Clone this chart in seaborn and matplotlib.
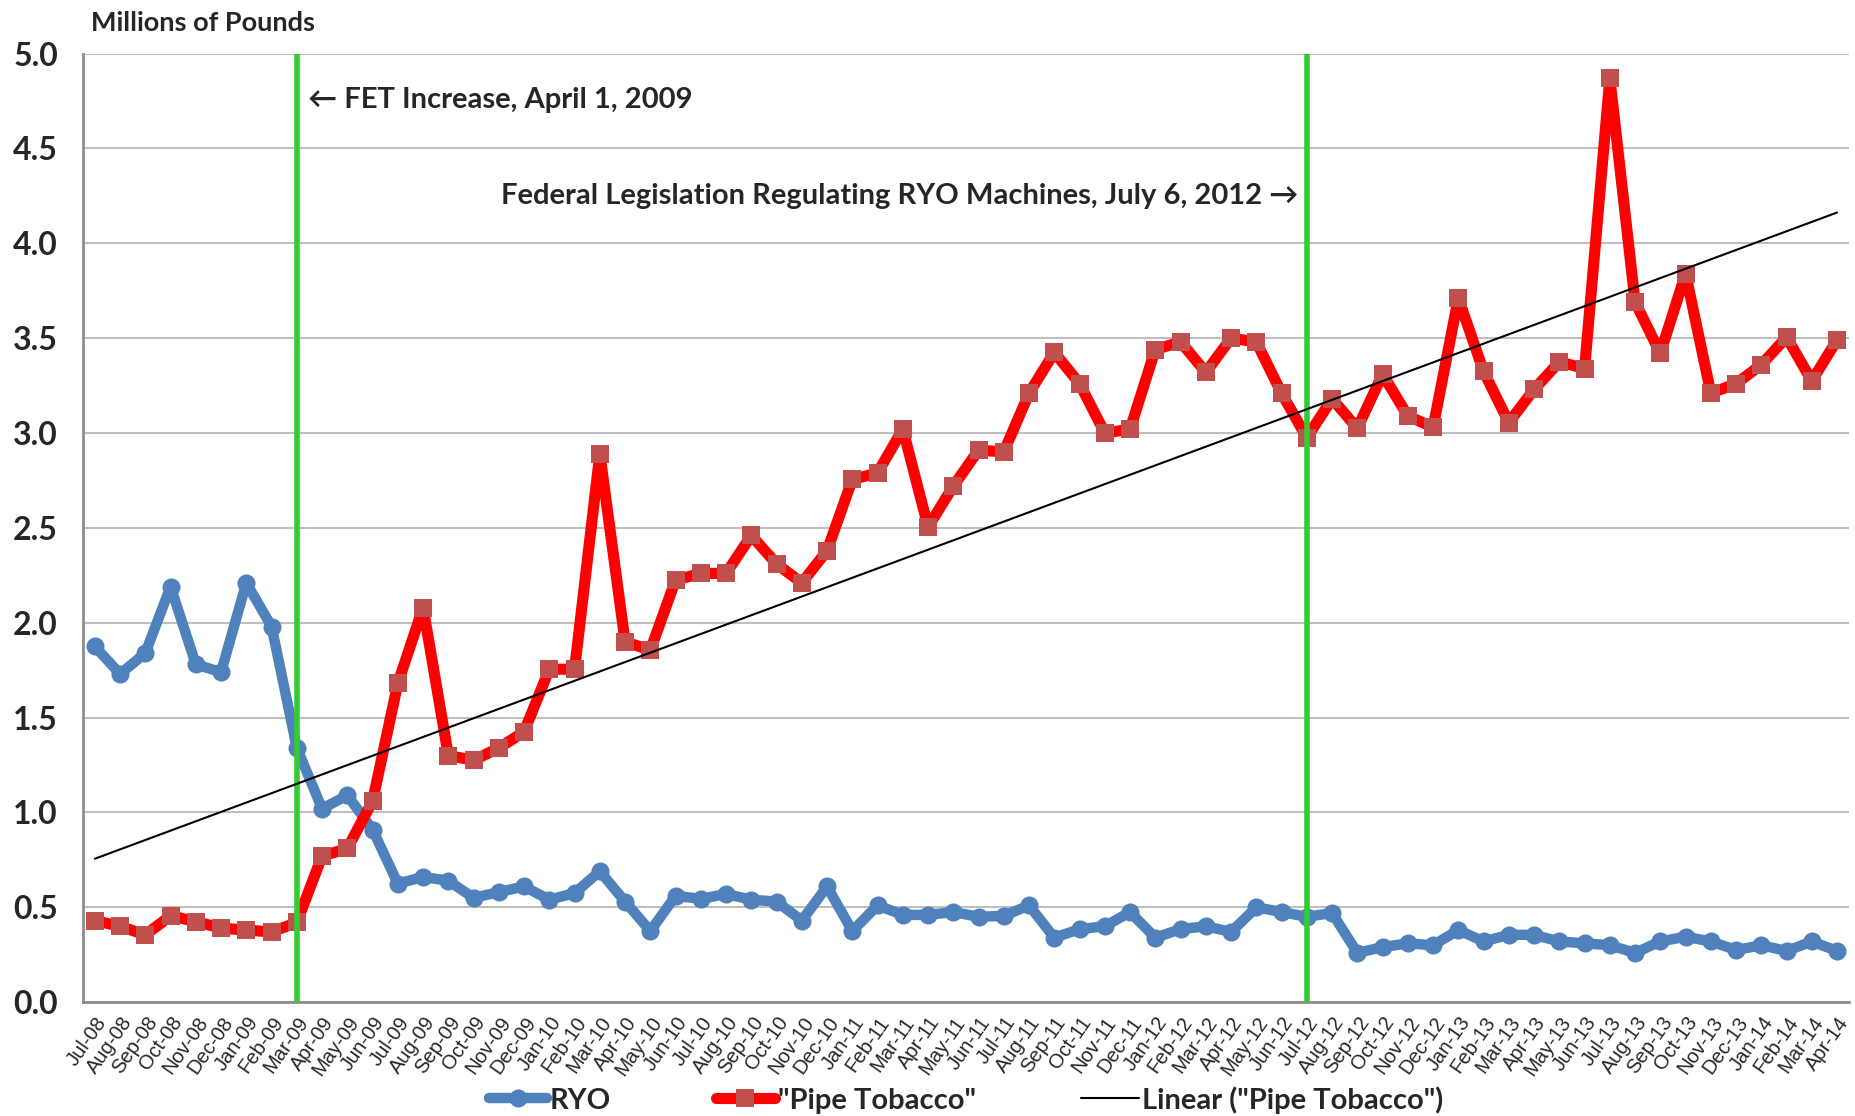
import matplotlib
matplotlib.use("Agg")
import matplotlib.pyplot as plt
import seaborn as sns
import pandas as pd
import numpy as np

# Monthly labels Jul-08 .. Apr-14
months = ["Jul-08", "Aug-08", "Sep-08", "Oct-08", "Nov-08", "Dec-08",
          "Jan-09", "Feb-09", "Mar-09", "Apr-09", "May-09", "Jun-09",
          "Jul-09", "Aug-09", "Sep-09", "Oct-09", "Nov-09", "Dec-09",
          "Jan-10", "Feb-10", "Mar-10", "Apr-10", "May-10", "Jun-10",
          "Jul-10", "Aug-10", "Sep-10", "Oct-10", "Nov-10", "Dec-10",
          "Jan-11", "Feb-11", "Mar-11", "Apr-11", "May-11", "Jun-11",
          "Jul-11", "Aug-11", "Sep-11", "Oct-11", "Nov-11", "Dec-11",
          "Jan-12", "Feb-12", "Mar-12", "Apr-12", "May-12", "Jun-12",
          "Jul-12", "Aug-12", "Sep-12", "Oct-12", "Nov-12", "Dec-12",
          "Jan-13", "Feb-13", "Mar-13", "Apr-13", "May-13", "Jun-13",
          "Jul-13", "Aug-13", "Sep-13", "Oct-13", "Nov-13", "Dec-13",
          "Jan-14", "Feb-14", "Mar-14", "Apr-14"]

# RYO, millions of pounds
ryo = [1.875, 1.73, 1.84, 2.19, 1.78, 1.74, 2.21, 1.98, 1.34, 1.02,
       1.09, 0.91, 0.625, 0.66, 0.64, 0.55, 0.58, 0.61, 0.54, 0.575,
       0.69, 0.53, 0.375, 0.56, 0.545, 0.57, 0.54, 0.53, 0.43, 0.61,
       0.375, 0.51, 0.46, 0.46, 0.475, 0.45, 0.455, 0.51, 0.34, 0.385,
       0.40, 0.475, 0.34, 0.385, 0.40, 0.37, 0.50, 0.475, 0.45, 0.47,
       0.26, 0.29, 0.31, 0.30, 0.38, 0.32, 0.355, 0.355, 0.32, 0.31,
       0.30, 0.26, 0.32, 0.345, 0.32, 0.275, 0.30, 0.27, 0.32, 0.27]

# "Pipe Tobacco", millions of pounds
pipe = [0.43, 0.40, 0.355, 0.455, 0.425, 0.39, 0.38, 0.37, 0.42, 0.77,
        0.81, 1.06, 1.68, 2.08, 1.30, 1.275, 1.34, 1.425, 1.755, 1.755,
        2.89, 1.90, 1.855, 2.225, 2.26, 2.26, 2.46, 2.31, 2.21, 2.38,
        2.755, 2.79, 3.02, 2.505, 2.72, 2.91, 2.90, 3.21, 3.425, 3.26,
        3.00, 3.02, 3.44, 3.48, 3.32, 3.50, 3.48, 3.21, 2.975, 3.18,
        3.025, 3.31, 3.09, 3.03, 3.71, 3.325, 3.055, 3.23, 3.375, 3.34,
        4.87, 3.69, 3.42, 3.84, 3.21, 3.26, 3.36, 3.505, 3.275, 3.49]

fet_month = "Mar-09"
fed_month = "Jul-12"

df = pd.DataFrame({"idx": np.arange(len(months)), "month": months,
                   "RYO": ryo, "Pipe": pipe})

sns.set_style("white")
plt.rcParams['font.family'] = ['Lato', 'DejaVu Sans']

fig = plt.figure(figsize=(18.56, 11.16), dpi=100)
ax = fig.add_axes([0.0447, 0.102, 0.9515, 0.850])

# horizontal gridlines
ax.set_axisbelow(True)
ax.yaxis.grid(True, color="#BFBFBF", linewidth=1.5)

# event lines
x_fet = months.index(fet_month)
x_fed = months.index(fed_month)
ax.axvline(x_fet, color="#33CC33", linewidth=4, ymax=0.999, zorder=5)
ax.axvline(x_fed, color="#33CC33", linewidth=4, ymax=0.999, zorder=5)

sns.lineplot(data=df, x="idx", y="RYO", ax=ax, color="#4F81BD",
             linewidth=7.5, marker="o", markersize=13, markeredgewidth=0,
             markerfacecolor="#4F81BD", label="RYO", zorder=3)
sns.lineplot(data=df, x="idx", y="Pipe", ax=ax, color="#FF0000",
             linewidth=8, marker="s", markersize=13, markeredgewidth=0,
             markerfacecolor="#C0504D", label='"Pipe Tobacco"', zorder=4)
sns.regplot(data=df, x="idx", y="Pipe", ax=ax, scatter=False, ci=None,
            truncate=True, color="black", line_kws={"linewidth": 1.5, "zorder": 6},
            label='Linear ("Pipe Tobacco")')

ax.set_xlim(-0.47, len(months) - 1 + 0.47)
ax.set_ylim(0, 5.0)
ax.set_yticks(np.arange(0, 5.01, 0.5))
ax.set_yticklabels([f"{v:.1f}" for v in np.arange(0, 5.01, 0.5)],
                   fontsize=23, fontweight="bold")
ax.set_xticks(df["idx"])
ax.set_xticklabels(months, rotation=55, ha="right", rotation_mode="anchor",
                   fontsize=14.5, family="Liberation Sans")
ax.tick_params(axis="x", length=0, pad=8)
ax.tick_params(axis="y", length=0, pad=18)
ax.set_xlabel("")
ax.set_ylabel("")

for side in ["top", "right"]:
    ax.spines[side].set_visible(False)
for side in ["left", "bottom"]:
    ax.spines[side].set_color("#8C8C8C")
    ax.spines[side].set_linewidth(2)

fig.text(0.049, 0.99, "Millions of Pounds", fontsize=19.5, fontweight="bold",
         ha="left", va="top")

ax.text(x_fet + 0.45, 4.756, "\u2190 FET Increase, April 1, 2009",
        fontsize=21, fontweight="bold", ha="left", va="center",
        family=["Lato", "DejaVu Sans"])
ax.text(x_fed - 0.35, 4.25, "Federal Legislation Regulating RYO Machines, July 6, 2012 \u2192",
        fontsize=21, fontweight="bold", ha="right", va="center",
        family=["Lato", "DejaVu Sans"])

leg = ax.legend(loc="center", bbox_to_anchor=(0.5, -0.103), ncol=3,
                frameon=False, handlelength=2.0, columnspacing=3.6,
                handletextpad=0.1, prop={"weight": "bold", "size": 21})

plt.savefig("out.png", dpi=100)
